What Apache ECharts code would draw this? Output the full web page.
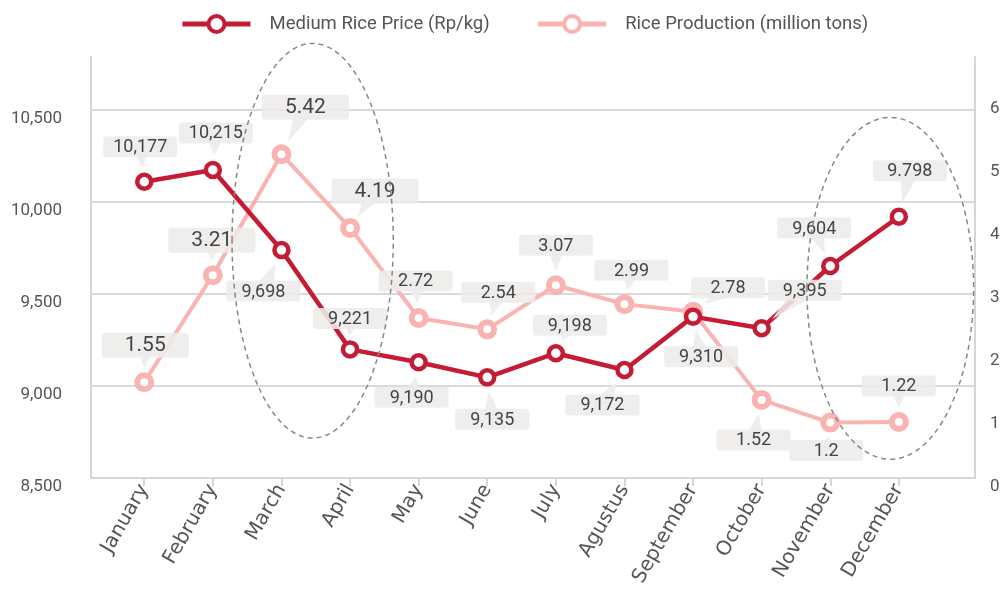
<!DOCTYPE html>
<html>
<head>
<meta charset="utf-8">
<script src="https://cdn.jsdelivr.net/npm/echarts@6/dist/echarts.min.js"></script>
<style>
html,body{margin:0;padding:0;background:#fff;}
#chart{width:1007px;height:593px;}
</style>
</head>
<body>
<div id="chart"></div>
<script>
// ---- data ----
const months = ['January','February','March','April','May','June','July','Agustus','September','October','November','December'];
const priceValues = [10110, 10174, 9739, 9199, 9129, 9047, 9178, 9087, 9377, 9314, 9652, 9920];
const productionValues = [1.52, 3.22, 5.14, 3.97, 2.54, 2.36, 3.06, 2.76, 2.64, 1.24, 0.88, 0.89];
const priceLabels = ['10,177','10,215','9,698','9,221','9,190','9,135','9,198','9,172','9,310','9,395','9,604','9.798'];
const productionLabels = ['1.55','3.21','5.42','4.19','2.72','2.54','3.07','2.99','2.78','1.52','1.2','1.22'];
const seriesNames = ['Medium Rice Price (Rp/kg)', 'Rice Production (million tons)'];
// highlighted periods (index range on x, value range on price axis)
const highlightX = [[1.28, 3.63], [9.66, 12.09]];
const highlightY = [[8717, 10862], [8602, 10460]];

// ---- label placement (box centre offset from point, px) ----
const priceLabelOffsets = [[-4,-35],[3,-37],[-18,41],[0,-31],[-7,35],[5,42],[14,-28],[-22,35],[8,40],[43,-38],[-16,-38],[11,-46]];
const prodLabelOffsets = [[1,-37],[-1,-35],[24,-47],[25,-37],[-3,-37],[11,-37],[0,-40],[7,-34],[35,-24],[-8,40],[-4,28],[0,-36]];
const prodBig = [true,true,true,true,false,false,false,false,false,false,false,false];

const priceColor = '#c41c34';
const prodColor = '#f9b4b2';
const boxFill = 'rgba(237,236,234,0.88)';
const numFont = 'Roboto, "Noto Sans", sans-serif';

function calloutRenderer(values, labels, offsets, bigFlags) {
  return function (params, api) {
    const i = params.dataIndex;
    const p = api.coord([api.value(0), api.value(1)]);
    const off = offsets[i];
    const c = [p[0] + off[0], p[1] + off[1]];
    let dx = c[0] - p[0], dy = c[1] - p[1];
    const len = Math.sqrt(dx * dx + dy * dy) || 1;
    dx /= len; dy /= len;
    const tip = [p[0] + dx * 14, p[1] + dy * 14];
    const nx = -dy, ny = dx, hw = 10;
    const big = bigFlags && bigFlags[i];
    const w = big ? 87 : 74, h = big ? 25 : 21;
    return {
      type: 'group',
      children: [
        { type: 'polygon', shape: { points: [tip, [c[0] + nx * hw, c[1] + ny * hw], [c[0] - nx * hw, c[1] - ny * hw]] },
          style: { fill: boxFill } },
        { type: 'rect', shape: { x: c[0] - w / 2, y: c[1] - h / 2, width: w, height: h, r: 3 },
          style: { fill: boxFill } },
        { type: 'text', style: { x: c[0], y: c[1] + 1, text: labels[i], align: 'center', verticalAlign: 'middle',
          fill: '#444', font: (big ? 21 : 18) + 'px ' + numFont } }
      ]
    };
  };
}

const chart = echarts.init(document.getElementById('chart'), null, { renderer: 'canvas' });
const idx = months.map((m, i) => i);

chart.setOption({
  animation: false,
  backgroundColor: '#fff',
  legend: {
    data: seriesNames,
    left: 175,
    top: 9,
    itemWidth: 68,
    itemHeight: 20,
    itemGap: 46,
    lineStyle: { width: 5 },
    itemStyle: { borderWidth: 4 },
    textStyle: { fontFamily: numFont, fontSize: 18.5, color: '#555', padding: [0, 0, 0, 14] }
  },
  grid: { left: 91, right: 32, top: 57, bottom: 115, containLabel: false },
  xAxis: {
    type: 'value',
    min: -0.776,
    max: 12.11,
    splitLine: { show: false },
    axisLine: { onZero: false, lineStyle: { color: '#d6d6d6', width: 2 } },
    axisTick: { show: true, customValues: idx, length: 8, lineStyle: { color: '#d6d6d6', width: 2 } },
    axisLabel: {
      customValues: idx,
      formatter: v => months[Math.round(v)],
      rotate: 60,
      margin: 8,
      fontFamily: '"DejaVu Sans", sans-serif',
      fontSize: 20,
      color: '#555'
    }
  },
  yAxis: [
    {
      type: 'value', min: 8500, max: 10788, interval: 500, position: 'left',
      axisLine: { show: true, onZero: false, lineStyle: { color: '#d6d6d6', width: 2 } },
      axisTick: { show: false },
      splitLine: { show: true, showMaxLine: false, lineStyle: { color: '#d9d9d9', width: 2 } },
      axisLabel: { showMaxLabel: false, margin: 29, verticalAlign: 'top', fontFamily: numFont, fontSize: 17, color: '#555',
        formatter: v => v.toLocaleString('en-US') }
    },
    {
      type: 'value', min: 0, max: 6.683, interval: 1, position: 'right',
      axisLine: { show: true, onZero: false, lineStyle: { color: '#d6d6d6', width: 2 } },
      axisTick: { show: false },
      splitLine: { show: false },
      axisLabel: { showMaxLabel: false, margin: 15, verticalAlign: 'top', fontFamily: numFont, fontSize: 17, color: '#555' }
    }
  ],
  series: [
    {
      name: seriesNames[1], type: 'line', yAxisIndex: 1, z: 2,
      data: productionValues.map((v, i) => [i, v]),
      symbol: 'circle', symbolSize: 14,
      lineStyle: { color: prodColor, width: 4 },
      itemStyle: { color: '#fff', borderColor: prodColor, borderWidth: 6 },
      emphasis: { disabled: true }
    },
    {
      name: seriesNames[0], type: 'line', yAxisIndex: 0, z: 3,
      data: priceValues.map((v, i) => [i, v]),
      symbol: 'circle', symbolSize: 14,
      lineStyle: { color: priceColor, width: 4.5 },
      itemStyle: { color: '#fff', borderColor: priceColor, borderWidth: 4.5 },
      emphasis: { disabled: true }
    },
    {
      type: 'custom', yAxisIndex: 1, z: 4, clip: false, silent: true,
      data: productionValues.map((v, i) => [i, v]),
      encode: { x: 0, y: 1 },
      renderItem: calloutRenderer(productionValues, productionLabels, prodLabelOffsets, prodBig)
    },
    {
      type: 'custom', yAxisIndex: 0, z: 5, clip: false, silent: true,
      data: priceValues.map((v, i) => [i, v]),
      encode: { x: 0, y: 1 },
      renderItem: calloutRenderer(priceValues, priceLabels, priceLabelOffsets, null)
    },
    {
      type: 'custom', yAxisIndex: 0, z: 6, clip: false, silent: true,
      data: highlightX.map((r, i) => [r[0], highlightY[i][0], r[1], highlightY[i][1]]),
      encode: { x: [0, 2], y: [1, 3] },
      renderItem: function (params, api) {
        const a = api.coord([api.value(0), api.value(1)]);
        const b = api.coord([api.value(2), api.value(3)]);
        return {
          type: 'ellipse',
          shape: { cx: (a[0] + b[0]) / 2, cy: (a[1] + b[1]) / 2, rx: Math.abs(b[0] - a[0]) / 2, ry: Math.abs(b[1] - a[1]) / 2 },
          style: { fill: 'none', stroke: '#888', lineWidth: 1.5, lineDash: [5, 4] }
        };
      }
    }
  ]
});
</script>
</body>
</html>
